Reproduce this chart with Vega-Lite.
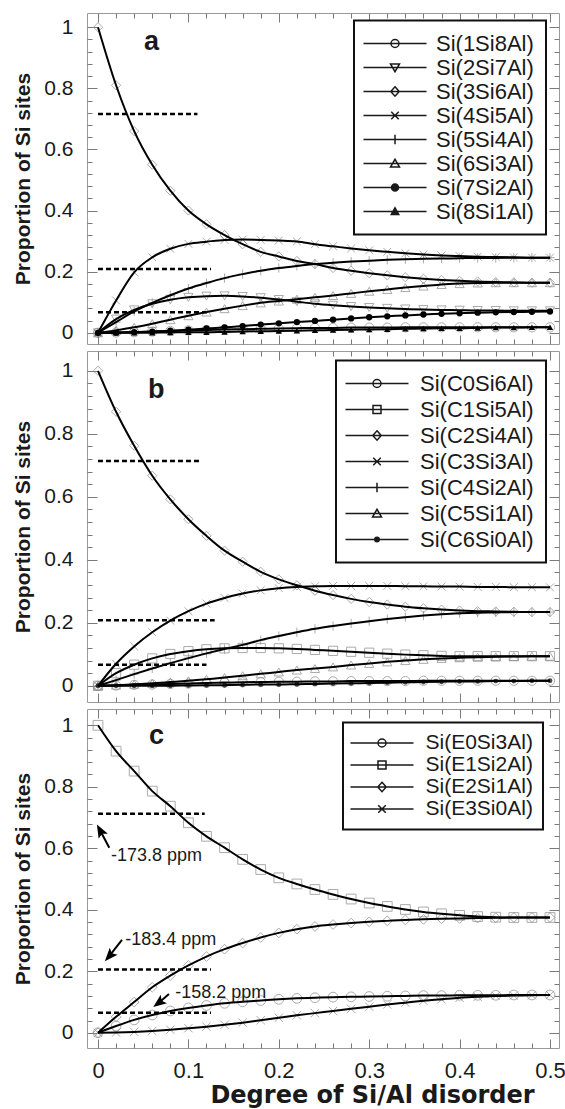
{
"$schema": "https://vega.github.io/schema/vega-lite/v6.json",
"background": "white",
"padding": {"left": 12, "top": 12, "right": 0, "bottom": 0},
"spacing": 5,
"config": {
  "view": {"stroke": "#9a9a9a", "strokeWidth": 1},
  "font": "Liberation Sans",
  "axis": {"domain": false, "grid": false, "ticks": true, "zindex": 1, "tickColor": "#7a7a7a", "tickWidth": 1, "tickOpacity": 1, "labelFont": "Liberation Sans", "labelFontSize": 21, "labelColor": "#1a1a1a", "titleFont": "Liberation Sans", "titleFontSize": 21, "titleFontWeight": "bold", "titleColor": "#1a1a1a", "labelOverlap": false, "labelFlush": false, "labelBound": false},
  "legend": {"labelFont": "Liberation Sans", "labelColor": "#1a1a1a", "strokeColor": "#111111", "strokeWidth": 2, "fillColor": "white", "symbolStrokeColor": "#1a1a1a", "symbolStrokeWidth": 1.5, "symbolSize": 100, "symbolOpacity": 1, "symbolFillColor": "transparent", "cornerRadius": 0, "labelLimit": 300}
},
"datasets": {
  "a": [
    {"x":0,"Si(1Si8Al)":0,"Si(2Si7Al)":0,"Si(3Si6Al)":1,"Si(4Si5Al)":0,"Si(5Si4Al)":0,"Si(6Si3Al)":0,"Si(7Si2Al)":0,"Si(8Si1Al)":0},
    {"x":0.02,"Si(1Si8Al)":0.001,"Si(2Si7Al)":0.045,"Si(3Si6Al)":0.81,"Si(4Si5Al)":0.106,"Si(5Si4Al)":0.035,"Si(6Si3Al)":0.008,"Si(7Si2Al)":0.0005,"Si(8Si1Al)":0},
    {"x":0.04,"Si(1Si8Al)":0.002,"Si(2Si7Al)":0.075,"Si(3Si6Al)":0.66,"Si(4Si5Al)":0.198,"Si(5Si4Al)":0.07,"Si(6Si3Al)":0.018,"Si(7Si2Al)":0.002,"Si(8Si1Al)":0.0002},
    {"x":0.06,"Si(1Si8Al)":0.004,"Si(2Si7Al)":0.095,"Si(3Si6Al)":0.55,"Si(4Si5Al)":0.247,"Si(5Si4Al)":0.098,"Si(6Si3Al)":0.03,"Si(7Si2Al)":0.004,"Si(8Si1Al)":0.0005},
    {"x":0.08,"Si(1Si8Al)":0.006,"Si(2Si7Al)":0.108,"Si(3Si6Al)":0.465,"Si(4Si5Al)":0.275,"Si(5Si4Al)":0.123,"Si(6Si3Al)":0.043,"Si(7Si2Al)":0.007,"Si(8Si1Al)":0.001},
    {"x":0.1,"Si(1Si8Al)":0.008,"Si(2Si7Al)":0.116,"Si(3Si6Al)":0.4,"Si(4Si5Al)":0.291,"Si(5Si4Al)":0.145,"Si(6Si3Al)":0.056,"Si(7Si2Al)":0.01,"Si(8Si1Al)":0.002},
    {"x":0.12,"Si(1Si8Al)":0.009,"Si(2Si7Al)":0.12,"Si(3Si6Al)":0.355,"Si(4Si5Al)":0.298,"Si(5Si4Al)":0.163,"Si(6Si3Al)":0.068,"Si(7Si2Al)":0.014,"Si(8Si1Al)":0.002},
    {"x":0.14,"Si(1Si8Al)":0.011,"Si(2Si7Al)":0.121,"Si(3Si6Al)":0.32,"Si(4Si5Al)":0.304,"Si(5Si4Al)":0.179,"Si(6Si3Al)":0.079,"Si(7Si2Al)":0.018,"Si(8Si1Al)":0.003},
    {"x":0.16,"Si(1Si8Al)":0.012,"Si(2Si7Al)":0.119,"Si(3Si6Al)":0.29,"Si(4Si5Al)":0.305,"Si(5Si4Al)":0.192,"Si(6Si3Al)":0.089,"Si(7Si2Al)":0.022,"Si(8Si1Al)":0.004},
    {"x":0.18,"Si(1Si8Al)":0.013,"Si(2Si7Al)":0.115,"Si(3Si6Al)":0.265,"Si(4Si5Al)":0.304,"Si(5Si4Al)":0.203,"Si(6Si3Al)":0.098,"Si(7Si2Al)":0.027,"Si(8Si1Al)":0.005},
    {"x":0.2,"Si(1Si8Al)":0.014,"Si(2Si7Al)":0.109,"Si(3Si6Al)":0.25,"Si(4Si5Al)":0.302,"Si(5Si4Al)":0.212,"Si(6Si3Al)":0.104,"Si(7Si2Al)":0.031,"Si(8Si1Al)":0.006},
    {"x":0.22,"Si(1Si8Al)":0.015,"Si(2Si7Al)":0.102,"Si(3Si6Al)":0.235,"Si(4Si5Al)":0.299,"Si(5Si4Al)":0.219,"Si(6Si3Al)":0.11,"Si(7Si2Al)":0.035,"Si(8Si1Al)":0.007},
    {"x":0.24,"Si(1Si8Al)":0.016,"Si(2Si7Al)":0.095,"Si(3Si6Al)":0.225,"Si(4Si5Al)":0.29,"Si(5Si4Al)":0.225,"Si(6Si3Al)":0.116,"Si(7Si2Al)":0.039,"Si(8Si1Al)":0.008},
    {"x":0.26,"Si(1Si8Al)":0.016,"Si(2Si7Al)":0.09,"Si(3Si6Al)":0.212,"Si(4Si5Al)":0.283,"Si(5Si4Al)":0.229,"Si(6Si3Al)":0.122,"Si(7Si2Al)":0.043,"Si(8Si1Al)":0.009},
    {"x":0.28,"Si(1Si8Al)":0.017,"Si(2Si7Al)":0.086,"Si(3Si6Al)":0.203,"Si(4Si5Al)":0.276,"Si(5Si4Al)":0.233,"Si(6Si3Al)":0.129,"Si(7Si2Al)":0.047,"Si(8Si1Al)":0.01},
    {"x":0.3,"Si(1Si8Al)":0.017,"Si(2Si7Al)":0.083,"Si(3Si6Al)":0.195,"Si(4Si5Al)":0.27,"Si(5Si4Al)":0.236,"Si(6Si3Al)":0.136,"Si(7Si2Al)":0.051,"Si(8Si1Al)":0.011},
    {"x":0.32,"Si(1Si8Al)":0.017,"Si(2Si7Al)":0.08,"Si(3Si6Al)":0.188,"Si(4Si5Al)":0.265,"Si(5Si4Al)":0.239,"Si(6Si3Al)":0.142,"Si(7Si2Al)":0.054,"Si(8Si1Al)":0.012},
    {"x":0.34,"Si(1Si8Al)":0.018,"Si(2Si7Al)":0.078,"Si(3Si6Al)":0.182,"Si(4Si5Al)":0.26,"Si(5Si4Al)":0.241,"Si(6Si3Al)":0.148,"Si(7Si2Al)":0.057,"Si(8Si1Al)":0.013},
    {"x":0.36,"Si(1Si8Al)":0.018,"Si(2Si7Al)":0.076,"Si(3Si6Al)":0.177,"Si(4Si5Al)":0.256,"Si(5Si4Al)":0.242,"Si(6Si3Al)":0.153,"Si(7Si2Al)":0.06,"Si(8Si1Al)":0.014},
    {"x":0.38,"Si(1Si8Al)":0.018,"Si(2Si7Al)":0.075,"Si(3Si6Al)":0.173,"Si(4Si5Al)":0.253,"Si(5Si4Al)":0.243,"Si(6Si3Al)":0.158,"Si(7Si2Al)":0.062,"Si(8Si1Al)":0.015},
    {"x":0.4,"Si(1Si8Al)":0.018,"Si(2Si7Al)":0.074,"Si(3Si6Al)":0.17,"Si(4Si5Al)":0.251,"Si(5Si4Al)":0.244,"Si(6Si3Al)":0.161,"Si(7Si2Al)":0.064,"Si(8Si1Al)":0.015},
    {"x":0.42,"Si(1Si8Al)":0.018,"Si(2Si7Al)":0.073,"Si(3Si6Al)":0.168,"Si(4Si5Al)":0.249,"Si(5Si4Al)":0.245,"Si(6Si3Al)":0.163,"Si(7Si2Al)":0.066,"Si(8Si1Al)":0.016},
    {"x":0.44,"Si(1Si8Al)":0.018,"Si(2Si7Al)":0.073,"Si(3Si6Al)":0.166,"Si(4Si5Al)":0.248,"Si(5Si4Al)":0.245,"Si(6Si3Al)":0.164,"Si(7Si2Al)":0.067,"Si(8Si1Al)":0.017},
    {"x":0.46,"Si(1Si8Al)":0.018,"Si(2Si7Al)":0.072,"Si(3Si6Al)":0.165,"Si(4Si5Al)":0.247,"Si(5Si4Al)":0.246,"Si(6Si3Al)":0.164,"Si(7Si2Al)":0.068,"Si(8Si1Al)":0.017},
    {"x":0.48,"Si(1Si8Al)":0.018,"Si(2Si7Al)":0.072,"Si(3Si6Al)":0.164,"Si(4Si5Al)":0.246,"Si(5Si4Al)":0.246,"Si(6Si3Al)":0.164,"Si(7Si2Al)":0.069,"Si(8Si1Al)":0.018},
    {"x":0.5,"Si(1Si8Al)":0.018,"Si(2Si7Al)":0.072,"Si(3Si6Al)":0.164,"Si(4Si5Al)":0.246,"Si(5Si4Al)":0.246,"Si(6Si3Al)":0.164,"Si(7Si2Al)":0.07,"Si(8Si1Al)":0.018}
  ],
  "b": [
    {"x":0,"Si(C0Si6Al)":0,"Si(C1Si5Al)":0,"Si(C2Si4Al)":1,"Si(C3Si3Al)":0,"Si(C4Si2Al)":0,"Si(C5Si1Al)":0,"Si(C6Si0Al)":0},
    {"x":0.02,"Si(C0Si6Al)":0.001,"Si(C1Si5Al)":0.04,"Si(C2Si4Al)":0.87,"Si(C3Si3Al)":0.07,"Si(C4Si2Al)":0.018,"Si(C5Si1Al)":0.002,"Si(C6Si0Al)":0},
    {"x":0.04,"Si(C0Si6Al)":0.003,"Si(C1Si5Al)":0.067,"Si(C2Si4Al)":0.762,"Si(C3Si3Al)":0.125,"Si(C4Si2Al)":0.037,"Si(C5Si1Al)":0.005,"Si(C6Si0Al)":0},
    {"x":0.06,"Si(C0Si6Al)":0.004,"Si(C1Si5Al)":0.087,"Si(C2Si4Al)":0.667,"Si(C3Si3Al)":0.17,"Si(C4Si2Al)":0.055,"Si(C5Si1Al)":0.008,"Si(C6Si0Al)":0.0002},
    {"x":0.08,"Si(C0Si6Al)":0.006,"Si(C1Si5Al)":0.101,"Si(C2Si4Al)":0.592,"Si(C3Si3Al)":0.207,"Si(C4Si2Al)":0.072,"Si(C5Si1Al)":0.012,"Si(C6Si0Al)":0.0004},
    {"x":0.1,"Si(C0Si6Al)":0.007,"Si(C1Si5Al)":0.11,"Si(C2Si4Al)":0.529,"Si(C3Si3Al)":0.237,"Si(C4Si2Al)":0.088,"Si(C5Si1Al)":0.016,"Si(C6Si0Al)":0.001},
    {"x":0.12,"Si(C0Si6Al)":0.009,"Si(C1Si5Al)":0.116,"Si(C2Si4Al)":0.476,"Si(C3Si3Al)":0.261,"Si(C4Si2Al)":0.103,"Si(C5Si1Al)":0.021,"Si(C6Si0Al)":0.0015},
    {"x":0.14,"Si(C0Si6Al)":0.01,"Si(C1Si5Al)":0.119,"Si(C2Si4Al)":0.429,"Si(C3Si3Al)":0.279,"Si(C4Si2Al)":0.117,"Si(C5Si1Al)":0.026,"Si(C6Si0Al)":0.002},
    {"x":0.16,"Si(C0Si6Al)":0.011,"Si(C1Si5Al)":0.12,"Si(C2Si4Al)":0.394,"Si(C3Si3Al)":0.293,"Si(C4Si2Al)":0.13,"Si(C5Si1Al)":0.032,"Si(C6Si0Al)":0.003},
    {"x":0.18,"Si(C0Si6Al)":0.012,"Si(C1Si5Al)":0.12,"Si(C2Si4Al)":0.362,"Si(C3Si3Al)":0.303,"Si(C4Si2Al)":0.145,"Si(C5Si1Al)":0.038,"Si(C6Si0Al)":0.004},
    {"x":0.2,"Si(C0Si6Al)":0.013,"Si(C1Si5Al)":0.119,"Si(C2Si4Al)":0.338,"Si(C3Si3Al)":0.31,"Si(C4Si2Al)":0.158,"Si(C5Si1Al)":0.044,"Si(C6Si0Al)":0.004},
    {"x":0.22,"Si(C0Si6Al)":0.013,"Si(C1Si5Al)":0.117,"Si(C2Si4Al)":0.319,"Si(C3Si3Al)":0.314,"Si(C4Si2Al)":0.17,"Si(C5Si1Al)":0.05,"Si(C6Si0Al)":0.005},
    {"x":0.24,"Si(C0Si6Al)":0.014,"Si(C1Si5Al)":0.114,"Si(C2Si4Al)":0.302,"Si(C3Si3Al)":0.316,"Si(C4Si2Al)":0.181,"Si(C5Si1Al)":0.055,"Si(C6Si0Al)":0.006},
    {"x":0.26,"Si(C0Si6Al)":0.014,"Si(C1Si5Al)":0.111,"Si(C2Si4Al)":0.288,"Si(C3Si3Al)":0.317,"Si(C4Si2Al)":0.19,"Si(C5Si1Al)":0.06,"Si(C6Si0Al)":0.007},
    {"x":0.28,"Si(C0Si6Al)":0.015,"Si(C1Si5Al)":0.108,"Si(C2Si4Al)":0.276,"Si(C3Si3Al)":0.317,"Si(C4Si2Al)":0.198,"Si(C5Si1Al)":0.066,"Si(C6Si0Al)":0.008},
    {"x":0.3,"Si(C0Si6Al)":0.015,"Si(C1Si5Al)":0.105,"Si(C2Si4Al)":0.266,"Si(C3Si3Al)":0.317,"Si(C4Si2Al)":0.205,"Si(C5Si1Al)":0.071,"Si(C6Si0Al)":0.009},
    {"x":0.32,"Si(C0Si6Al)":0.015,"Si(C1Si5Al)":0.102,"Si(C2Si4Al)":0.258,"Si(C3Si3Al)":0.317,"Si(C4Si2Al)":0.212,"Si(C5Si1Al)":0.076,"Si(C6Si0Al)":0.01},
    {"x":0.34,"Si(C0Si6Al)":0.015,"Si(C1Si5Al)":0.099,"Si(C2Si4Al)":0.251,"Si(C3Si3Al)":0.316,"Si(C4Si2Al)":0.218,"Si(C5Si1Al)":0.08,"Si(C6Si0Al)":0.011},
    {"x":0.36,"Si(C0Si6Al)":0.016,"Si(C1Si5Al)":0.097,"Si(C2Si4Al)":0.246,"Si(C3Si3Al)":0.316,"Si(C4Si2Al)":0.223,"Si(C5Si1Al)":0.084,"Si(C6Si0Al)":0.012},
    {"x":0.38,"Si(C0Si6Al)":0.016,"Si(C1Si5Al)":0.095,"Si(C2Si4Al)":0.242,"Si(C3Si3Al)":0.315,"Si(C4Si2Al)":0.227,"Si(C5Si1Al)":0.087,"Si(C6Si0Al)":0.013},
    {"x":0.4,"Si(C0Si6Al)":0.016,"Si(C1Si5Al)":0.094,"Si(C2Si4Al)":0.239,"Si(C3Si3Al)":0.315,"Si(C4Si2Al)":0.23,"Si(C5Si1Al)":0.089,"Si(C6Si0Al)":0.014},
    {"x":0.42,"Si(C0Si6Al)":0.016,"Si(C1Si5Al)":0.094,"Si(C2Si4Al)":0.237,"Si(C3Si3Al)":0.314,"Si(C4Si2Al)":0.232,"Si(C5Si1Al)":0.091,"Si(C6Si0Al)":0.014},
    {"x":0.44,"Si(C0Si6Al)":0.016,"Si(C1Si5Al)":0.094,"Si(C2Si4Al)":0.236,"Si(C3Si3Al)":0.314,"Si(C4Si2Al)":0.233,"Si(C5Si1Al)":0.092,"Si(C6Si0Al)":0.015},
    {"x":0.46,"Si(C0Si6Al)":0.016,"Si(C1Si5Al)":0.094,"Si(C2Si4Al)":0.235,"Si(C3Si3Al)":0.313,"Si(C4Si2Al)":0.234,"Si(C5Si1Al)":0.093,"Si(C6Si0Al)":0.015},
    {"x":0.48,"Si(C0Si6Al)":0.016,"Si(C1Si5Al)":0.094,"Si(C2Si4Al)":0.234,"Si(C3Si3Al)":0.313,"Si(C4Si2Al)":0.234,"Si(C5Si1Al)":0.094,"Si(C6Si0Al)":0.016},
    {"x":0.5,"Si(C0Si6Al)":0.016,"Si(C1Si5Al)":0.094,"Si(C2Si4Al)":0.234,"Si(C3Si3Al)":0.3125,"Si(C4Si2Al)":0.234,"Si(C5Si1Al)":0.094,"Si(C6Si0Al)":0.016}
  ],
  "c": [
    {"x":0,"Si(E0Si3Al)":0,"Si(E1Si2Al)":1,"Si(E2Si1Al)":0,"Si(E3Si0Al)":0},
    {"x":0.02,"Si(E0Si3Al)":0.022,"Si(E1Si2Al)":0.916,"Si(E2Si1Al)":0.052,"Si(E3Si0Al)":0.001},
    {"x":0.04,"Si(E0Si3Al)":0.042,"Si(E1Si2Al)":0.851,"Si(E2Si1Al)":0.1,"Si(E3Si0Al)":0.003},
    {"x":0.06,"Si(E0Si3Al)":0.058,"Si(E1Si2Al)":0.786,"Si(E2Si1Al)":0.148,"Si(E3Si0Al)":0.006},
    {"x":0.08,"Si(E0Si3Al)":0.071,"Si(E1Si2Al)":0.737,"Si(E2Si1Al)":0.186,"Si(E3Si0Al)":0.01},
    {"x":0.1,"Si(E0Si3Al)":0.081,"Si(E1Si2Al)":0.683,"Si(E2Si1Al)":0.219,"Si(E3Si0Al)":0.015},
    {"x":0.12,"Si(E0Si3Al)":0.089,"Si(E1Si2Al)":0.639,"Si(E2Si1Al)":0.248,"Si(E3Si0Al)":0.02},
    {"x":0.14,"Si(E0Si3Al)":0.096,"Si(E1Si2Al)":0.602,"Si(E2Si1Al)":0.272,"Si(E3Si0Al)":0.026},
    {"x":0.16,"Si(E0Si3Al)":0.101,"Si(E1Si2Al)":0.564,"Si(E2Si1Al)":0.292,"Si(E3Si0Al)":0.033},
    {"x":0.18,"Si(E0Si3Al)":0.105,"Si(E1Si2Al)":0.531,"Si(E2Si1Al)":0.31,"Si(E3Si0Al)":0.041},
    {"x":0.2,"Si(E0Si3Al)":0.109,"Si(E1Si2Al)":0.504,"Si(E2Si1Al)":0.325,"Si(E3Si0Al)":0.049},
    {"x":0.22,"Si(E0Si3Al)":0.112,"Si(E1Si2Al)":0.484,"Si(E2Si1Al)":0.337,"Si(E3Si0Al)":0.057},
    {"x":0.24,"Si(E0Si3Al)":0.114,"Si(E1Si2Al)":0.466,"Si(E2Si1Al)":0.346,"Si(E3Si0Al)":0.064},
    {"x":0.26,"Si(E0Si3Al)":0.116,"Si(E1Si2Al)":0.45,"Si(E2Si1Al)":0.352,"Si(E3Si0Al)":0.071},
    {"x":0.28,"Si(E0Si3Al)":0.117,"Si(E1Si2Al)":0.435,"Si(E2Si1Al)":0.357,"Si(E3Si0Al)":0.078},
    {"x":0.3,"Si(E0Si3Al)":0.118,"Si(E1Si2Al)":0.422,"Si(E2Si1Al)":0.361,"Si(E3Si0Al)":0.085},
    {"x":0.32,"Si(E0Si3Al)":0.119,"Si(E1Si2Al)":0.411,"Si(E2Si1Al)":0.364,"Si(E3Si0Al)":0.092},
    {"x":0.34,"Si(E0Si3Al)":0.12,"Si(E1Si2Al)":0.401,"Si(E2Si1Al)":0.367,"Si(E3Si0Al)":0.098},
    {"x":0.36,"Si(E0Si3Al)":0.121,"Si(E1Si2Al)":0.393,"Si(E2Si1Al)":0.369,"Si(E3Si0Al)":0.104},
    {"x":0.38,"Si(E0Si3Al)":0.121,"Si(E1Si2Al)":0.387,"Si(E2Si1Al)":0.371,"Si(E3Si0Al)":0.109},
    {"x":0.4,"Si(E0Si3Al)":0.122,"Si(E1Si2Al)":0.382,"Si(E2Si1Al)":0.372,"Si(E3Si0Al)":0.114},
    {"x":0.42,"Si(E0Si3Al)":0.122,"Si(E1Si2Al)":0.378,"Si(E2Si1Al)":0.373,"Si(E3Si0Al)":0.117},
    {"x":0.44,"Si(E0Si3Al)":0.122,"Si(E1Si2Al)":0.376,"Si(E2Si1Al)":0.374,"Si(E3Si0Al)":0.12},
    {"x":0.46,"Si(E0Si3Al)":0.123,"Si(E1Si2Al)":0.375,"Si(E2Si1Al)":0.375,"Si(E3Si0Al)":0.121},
    {"x":0.48,"Si(E0Si3Al)":0.123,"Si(E1Si2Al)":0.375,"Si(E2Si1Al)":0.375,"Si(E3Si0Al)":0.122},
    {"x":0.5,"Si(E0Si3Al)":0.123,"Si(E1Si2Al)":0.375,"Si(E2Si1Al)":0.375,"Si(E3Si0Al)":0.123}
  ],
  "dash": [
    {"p":"a","x":0,"xe":0.11,"v":0.716},
    {"p":"a","x":0,"xe":0.125,"v":0.209},
    {"p":"a","x":0,"xe":0.123,"v":0.067},
    {"p":"b","x":0,"xe":0.114,"v":0.714},
    {"p":"b","x":0,"xe":0.129,"v":0.208},
    {"p":"b","x":0,"xe":0.12,"v":0.067},
    {"p":"c","x":0,"xe":0.118,"v":0.712},
    {"p":"c","x":0,"xe":0.125,"v":0.206},
    {"p":"c","x":0,"xe":0.125,"v":0.065}
  ],
  "lab": [
    {"p":"a","x":0.051,"v":0.927,"t":"a"},
    {"p":"b","x":0.0553,"v":0.915,"t":"b"},
    {"p":"c","x":0.0564,"v":0.9376,"t":"c"}
  ],
  "ann": [
    {"x":0.0144,"v":0.576,"t":"-173.8 ppm"},
    {"x":0.0302,"v":0.303,"t":"-183.4 ppm"},
    {"x":0.0855,"v":0.13,"t":"-158.2 ppm"}
  ],
  "arrows": [
    {"id":1,"x":0.0125,"v":0.602,"hx":0.0025,"hv":0.657},
    {"id":2,"x":0.0265,"v":0.302,"hx":0.0127,"hv":0.25},
    {"id":3,"x":0.0785,"v":0.126,"hx":0.0673,"hv":0.0976}
  ]
},
"vconcat": [
  {
    "width": 472, "height": 331,
    "layer": [
      {
        "data": {"name": "a"},
        "transform": [{"fold": ["Si(1Si8Al)","Si(2Si7Al)","Si(3Si6Al)","Si(4Si5Al)","Si(5Si4Al)","Si(6Si3Al)","Si(7Si2Al)","Si(8Si1Al)"], "as": ["series","v"]},
                      {"filter": {"field": "series", "oneOf": ["Si(1Si8Al)","Si(2Si7Al)","Si(3Si6Al)","Si(4Si5Al)","Si(5Si4Al)","Si(6Si3Al)"]}}],
        "mark": {"type": "point", "filled": false, "color": "#888888", "strokeWidth": 1, "size": 85},
        "encoding": {
          "x": {"field": "x", "type": "quantitative", "scale": {"domain": [-0.01217, 0.50996], "nice": false, "zero": false},
                "axis": {"values": [0,0.02,0.04,0.06,0.08,0.1,0.12,0.14,0.16,0.18,0.2,0.22,0.24,0.26,0.28,0.3,0.32,0.34,0.36,0.38,0.4,0.42,0.44,0.46,0.48,0.5], "labels": false, "title": null,
                         "tickSize": -9, "tickDash": {"condition": {"test": "round(datum.value*50)%5===0", "value": [9,0]}, "value": [5,30]}}},
          "y": {"field": "v", "type": "quantitative", "scale": {"domain": [-0.0366, 1.0465], "nice": false, "zero": false},
                "axis": {"values": [0,0.04,0.08,0.12,0.16,0.2,0.24,0.28,0.32,0.36,0.4,0.44,0.48,0.52,0.56,0.6,0.64,0.68,0.72,0.76,0.8,0.84,0.88,0.92,0.96,1],
                         "title": "Proportion of Si sites", "titlePadding": 10, "labelPadding": 24,
                         "labelExpr": "round(datum.value*25)%5===0 ? format(datum.value,'~g') : ''",
                         "tickSize": -10, "tickDash": {"condition": {"test": "round(datum.value*25)%5===0", "value": [10,0]}, "value": [5,30]}}},
          "shape": {"field": "series", "type": "nominal", "legend": null,
                    "scale": {"domain": ["Si(1Si8Al)","Si(2Si7Al)","Si(3Si6Al)","Si(4Si5Al)","Si(5Si4Al)","Si(6Si3Al)"],
                              "range": ["circle","triangle-down","diamond","M-0.85,-0.85L0.85,0.85M-0.85,0.85L0.85,-0.85","M-1,0H1M0,-1V1","triangle-up"]}}
        }
      },
      {
        "data": {"name": "a"},
        "transform": [{"fold": ["Si(1Si8Al)","Si(2Si7Al)","Si(3Si6Al)","Si(4Si5Al)","Si(5Si4Al)","Si(6Si3Al)","Si(7Si2Al)","Si(8Si1Al)"], "as": ["series","v"]}],
        "mark": {"type": "line", "color": "black", "strokeWidth": 2, "interpolate": "monotone"},
        "encoding": {
          "x": {"field": "x", "type": "quantitative",
                "axis": {"orient": "top", "values": [0,0.02,0.04,0.06,0.08,0.1,0.12,0.14,0.16,0.18,0.2,0.22,0.24,0.26,0.28,0.3,0.32,0.34,0.36,0.38,0.4,0.42,0.44,0.46,0.48,0.5], "labels": false, "title": null,
                         "tickSize": -9, "tickDash": {"condition": {"test": "round(datum.value*50)%5===0", "value": [9,0]}, "value": [5,30]}}},
          "y": {"field": "v", "type": "quantitative",
                "axis": {"orient": "right", "values": [0,0.04,0.08,0.12,0.16,0.2,0.24,0.28,0.32,0.36,0.4,0.44,0.48,0.52,0.56,0.6,0.64,0.68,0.72,0.76,0.8,0.84,0.88,0.92,0.96,1], "labels": false, "title": null,
                         "tickSize": -10, "tickDash": {"condition": {"test": "round(datum.value*25)%5===0", "value": [10,0]}, "value": [5,30]}}},
          "detail": {"field": "series", "type": "nominal"}
        }
      },
      {
        "data": {"name": "a"},
        "transform": [{"fold": ["Si(7Si2Al)","Si(8Si1Al)"], "as": ["series","v"]}],
        "mark": {"type": "point", "filled": true, "color": "black", "size": 40, "opacity": 1},
        "encoding": {
          "x": {"field": "x", "type": "quantitative", "axis": null},
          "y": {"field": "v", "type": "quantitative", "axis": null},
          "shape": {"field": "series", "type": "nominal", "legend": null,
                    "scale": {"domain": ["Si(7Si2Al)","Si(8Si1Al)"], "range": ["circle","triangle-up"]}}
        }
      },
      {
        "data": {"name": "dash"},
        "transform": [{"filter": "datum.p === 'a'"}],
        "mark": {"type": "rule", "color": "black", "strokeWidth": 2.5, "strokeDash": [5,3]},
        "encoding": {
          "x": {"field": "x", "type": "quantitative", "axis": null},
          "x2": {"field": "xe"},
          "y": {"field": "v", "type": "quantitative", "axis": null}
        }
      },
      {
        "data": {"name": "a"},
        "transform": [{"fold": ["Si(1Si8Al)","Si(2Si7Al)","Si(3Si6Al)","Si(4Si5Al)","Si(5Si4Al)","Si(6Si3Al)","Si(7Si2Al)","Si(8Si1Al)"], "as": ["series","v"]}, {"filter": "datum.x === 0"}],
        "mark": {"type": "point", "filled": false, "color": "black", "opacity": 0},
        "encoding": {
          "x": {"field": "x", "type": "quantitative", "axis": null},
          "y": {"field": "v", "type": "quantitative", "axis": null},
          "shape": {"field": "series", "type": "nominal",
                    "scale": {"domain": ["Si(1Si8Al)","Si(2Si7Al)","Si(3Si6Al)","Si(4Si5Al)","Si(5Si4Al)","Si(6Si3Al)","Si(7Si2Al)","Si(8Si1Al)"],
                              "range": ["M-6.3,0H6.3M0.8,0A0.8,0.8,0,1,1,-0.8,0A0.8,0.8,0,1,1,0.8,0Z",
                                        "M-6.3,0H6.3M-0.9,-0.7L0.9,-0.7L0,0.85Z",
                                        "M-6.3,0H6.3M0,-0.95L0.85,0L0,0.95L-0.85,0Z",
                                        "M-6.3,0H6.3M-0.75,-0.75L0.75,0.75M-0.75,0.75L0.75,-0.75",
                                        "M-6.3,0H6.3M0,-0.95V0.95",
                                        "M-6.3,0H6.3M-0.9,0.7L0.9,0.7L0,-0.85Z",
                                        "M-6.3,0H6.3M0.7,0A0.7,0.7,0,1,1,-0.7,0A0.7,0.7,0,1,1,0.7,0ZM0.4,0A0.4,0.4,0,1,1,-0.4,0A0.4,0.4,0,1,1,0.4,0ZM0.12,0A0.12,0.12,0,1,1,-0.12,0A0.12,0.12,0,1,1,0.12,0Z",
                                        "M-6.3,0H6.3M-0.75,0.6L0.75,0.6L0,-0.75ZM-0.45,0.42L0.45,0.42L0,-0.39ZM-0.19,0.26L0.19,0.26L0,-0.08Z"]},
                    "legend": {"title": null, "orient": "none", "legendX": 267, "legendY": 7.5, "padding": 12, "rowPadding": 2, "labelFontSize": 22,
                               "symbolOffset": 18, "labelOffset": 30}}
        }
      },
      {
        "data": {"name": "lab"},
        "transform": [{"filter": "datum.p === 'a'"}],
        "mark": {"type": "text", "font": "Liberation Sans", "fontWeight": "bold", "fontSize": 27, "align": "left", "baseline": "alphabetic", "color": "#1a1a1a"},
        "encoding": {
          "x": {"field": "x", "type": "quantitative", "axis": null},
          "y": {"field": "v", "type": "quantitative", "axis": null},
          "text": {"field": "t"}
        }
      }
    ],
    "resolve": {"scale": {"shape": "independent"}, "axis": {"x": "independent", "y": "independent"}}
  },
  {
    "width": 472, "height": 351,
    "layer": [
      {
        "data": {"name": "b"},
        "transform": [{"fold": ["Si(C0Si6Al)","Si(C1Si5Al)","Si(C2Si4Al)","Si(C3Si3Al)","Si(C4Si2Al)","Si(C5Si1Al)","Si(C6Si0Al)"], "as": ["series","v"]},
                      {"filter": {"field": "series", "oneOf": ["Si(C0Si6Al)","Si(C1Si5Al)","Si(C2Si4Al)","Si(C3Si3Al)","Si(C4Si2Al)","Si(C5Si1Al)"]}}],
        "mark": {"type": "point", "filled": false, "color": "#888888", "strokeWidth": 1, "size": 85},
        "encoding": {
          "x": {"field": "x", "type": "quantitative", "scale": {"domain": [-0.01217, 0.50996], "nice": false, "zero": false},
                "axis": {"values": [0,0.02,0.04,0.06,0.08,0.1,0.12,0.14,0.16,0.18,0.2,0.22,0.24,0.26,0.28,0.3,0.32,0.34,0.36,0.38,0.4,0.42,0.44,0.46,0.48,0.5], "labels": false, "title": null,
                         "tickSize": -9, "tickDash": {"condition": {"test": "round(datum.value*50)%5===0", "value": [9,0]}, "value": [5,30]}}},
          "y": {"field": "v", "type": "quantitative", "scale": {"domain": [-0.0514, 1.0629], "nice": false, "zero": false},
                "axis": {"values": [0,0.04,0.08,0.12,0.16,0.2,0.24,0.28,0.32,0.36,0.4,0.44,0.48,0.52,0.56,0.6,0.64,0.68,0.72,0.76,0.8,0.84,0.88,0.92,0.96,1],
                         "title": "Proportion of Si sites", "titlePadding": 10, "labelPadding": 24,
                         "labelExpr": "round(datum.value*25)%5===0 ? format(datum.value,'~g') : ''",
                         "tickSize": -10, "tickDash": {"condition": {"test": "round(datum.value*25)%5===0", "value": [10,0]}, "value": [5,30]}}},
          "shape": {"field": "series", "type": "nominal", "legend": null,
                    "scale": {"domain": ["Si(C0Si6Al)","Si(C1Si5Al)","Si(C2Si4Al)","Si(C3Si3Al)","Si(C4Si2Al)","Si(C5Si1Al)"],
                              "range": ["circle","square","diamond","M-0.85,-0.85L0.85,0.85M-0.85,0.85L0.85,-0.85","M-1,0H1M0,-1V1","triangle-up"]}}
        }
      },
      {
        "data": {"name": "b"},
        "transform": [{"fold": ["Si(C0Si6Al)","Si(C1Si5Al)","Si(C2Si4Al)","Si(C3Si3Al)","Si(C4Si2Al)","Si(C5Si1Al)","Si(C6Si0Al)"], "as": ["series","v"]}],
        "mark": {"type": "line", "color": "black", "strokeWidth": 2, "interpolate": "monotone"},
        "encoding": {
          "x": {"field": "x", "type": "quantitative",
                "axis": {"orient": "top", "values": [0,0.02,0.04,0.06,0.08,0.1,0.12,0.14,0.16,0.18,0.2,0.22,0.24,0.26,0.28,0.3,0.32,0.34,0.36,0.38,0.4,0.42,0.44,0.46,0.48,0.5], "labels": false, "title": null,
                         "tickSize": -9, "tickDash": {"condition": {"test": "round(datum.value*50)%5===0", "value": [9,0]}, "value": [5,30]}}},
          "y": {"field": "v", "type": "quantitative",
                "axis": {"orient": "right", "values": [0,0.04,0.08,0.12,0.16,0.2,0.24,0.28,0.32,0.36,0.4,0.44,0.48,0.52,0.56,0.6,0.64,0.68,0.72,0.76,0.8,0.84,0.88,0.92,0.96,1], "labels": false, "title": null,
                         "tickSize": -10, "tickDash": {"condition": {"test": "round(datum.value*25)%5===0", "value": [10,0]}, "value": [5,30]}}},
          "detail": {"field": "series", "type": "nominal"}
        }
      },
      {
        "data": {"name": "b"},
        "transform": [{"fold": ["Si(C6Si0Al)"], "as": ["series","v"]}],
        "mark": {"type": "point", "filled": true, "color": "black", "size": 24, "shape": "circle"},
        "encoding": {
          "x": {"field": "x", "type": "quantitative", "axis": null},
          "y": {"field": "v", "type": "quantitative", "axis": null}
        }
      },
      {
        "data": {"name": "dash"},
        "transform": [{"filter": "datum.p === 'b'"}],
        "mark": {"type": "rule", "color": "black", "strokeWidth": 2.5, "strokeDash": [5,3]},
        "encoding": {
          "x": {"field": "x", "type": "quantitative", "axis": null},
          "x2": {"field": "xe"},
          "y": {"field": "v", "type": "quantitative", "axis": null}
        }
      },
      {
        "data": {"name": "b"},
        "transform": [{"fold": ["Si(C0Si6Al)","Si(C1Si5Al)","Si(C2Si4Al)","Si(C3Si3Al)","Si(C4Si2Al)","Si(C5Si1Al)","Si(C6Si0Al)"], "as": ["series","v"]}, {"filter": "datum.x === 0"}],
        "mark": {"type": "point", "filled": false, "color": "black", "opacity": 0},
        "encoding": {
          "x": {"field": "x", "type": "quantitative", "axis": null},
          "y": {"field": "v", "type": "quantitative", "axis": null},
          "shape": {"field": "series", "type": "nominal",
                    "scale": {"domain": ["Si(C0Si6Al)","Si(C1Si5Al)","Si(C2Si4Al)","Si(C3Si3Al)","Si(C4Si2Al)","Si(C5Si1Al)","Si(C6Si0Al)"],
                              "range": ["M-6.3,0H6.3M0.8,0A0.8,0.8,0,1,1,-0.8,0A0.8,0.8,0,1,1,0.8,0Z",
                                        "M-6.3,0H6.3M-0.8,-0.8H0.8V0.8H-0.8Z",
                                        "M-6.3,0H6.3M0,-0.95L0.85,0L0,0.95L-0.85,0Z",
                                        "M-6.3,0H6.3M-0.75,-0.75L0.75,0.75M-0.75,0.75L0.75,-0.75",
                                        "M-6.3,0H6.3M0,-0.95V0.95",
                                        "M-6.3,0H6.3M-0.9,0.7L0.9,0.7L0,-0.85Z",
                                        "M-6.3,0H6.3M0.45,0A0.45,0.45,0,1,1,-0.45,0A0.45,0.45,0,1,1,0.45,0ZM0.17,0A0.17,0.17,0,1,1,-0.17,0A0.17,0.17,0,1,1,0.17,0Z"]},
                    "legend": {"title": null, "orient": "none", "legendX": 249, "legendY": 9.5, "padding": 12, "rowPadding": 4, "labelFontSize": 22,
                               "symbolOffset": 18, "labelOffset": 32}}
        }
      },
      {
        "data": {"name": "lab"},
        "transform": [{"filter": "datum.p === 'b'"}],
        "mark": {"type": "text", "font": "Liberation Sans", "fontWeight": "bold", "fontSize": 27, "align": "left", "baseline": "alphabetic", "color": "#1a1a1a"},
        "encoding": {
          "x": {"field": "x", "type": "quantitative", "axis": null},
          "y": {"field": "v", "type": "quantitative", "axis": null},
          "text": {"field": "t"}
        }
      }
    ],
    "resolve": {"scale": {"shape": "independent"}, "axis": {"x": "independent", "y": "independent"}}
  },
  {
    "width": 472, "height": 339,
    "layer": [
      {
        "data": {"name": "c"},
        "transform": [{"fold": ["Si(E0Si3Al)","Si(E1Si2Al)","Si(E2Si1Al)","Si(E3Si0Al)"], "as": ["series","v"]}],
        "mark": {"type": "point", "filled": false, "color": "#888888", "strokeWidth": 1, "size": 95},
        "encoding": {
          "x": {"field": "x", "type": "quantitative", "scale": {"domain": [-0.01217, 0.50996], "nice": false, "zero": false},
                "axis": {"values": [0,0.02,0.04,0.06,0.08,0.1,0.12,0.14,0.16,0.18,0.2,0.22,0.24,0.26,0.28,0.3,0.32,0.34,0.36,0.38,0.4,0.42,0.44,0.46,0.48,0.5],
                         "title": "Degree of Si/Al disorder", "titleFont": "DejaVu Sans", "titleFontSize": 24, "titleX": 285, "titleY": 54, "titleBaseline": "alphabetic",
                         "labelPadding": 21, "labelFontSize": 22,
                         "labelExpr": "round(datum.value*50)%5===0 ? format(datum.value,'~g') : ''",
                         "tickSize": -9, "tickDash": {"condition": {"test": "round(datum.value*50)%5===0", "value": [9,0]}, "value": [5,30]}}},
          "y": {"field": "v", "type": "quantitative", "scale": {"domain": [-0.0494, 1.053], "nice": false, "zero": false},
                "axis": {"values": [0,0.04,0.08,0.12,0.16,0.2,0.24,0.28,0.32,0.36,0.4,0.44,0.48,0.52,0.56,0.6,0.64,0.68,0.72,0.76,0.8,0.84,0.88,0.92,0.96,1],
                         "title": "Proportion of Si sites", "titlePadding": 10, "labelPadding": 24,
                         "labelExpr": "round(datum.value*25)%5===0 ? format(datum.value,'~g') : ''",
                         "tickSize": -10, "tickDash": {"condition": {"test": "round(datum.value*25)%5===0", "value": [10,0]}, "value": [5,30]}}},
          "shape": {"field": "series", "type": "nominal", "legend": null,
                    "scale": {"domain": ["Si(E0Si3Al)","Si(E1Si2Al)","Si(E2Si1Al)","Si(E3Si0Al)"],
                              "range": ["circle","square","diamond","M-0.85,-0.85L0.85,0.85M-0.85,0.85L0.85,-0.85"]}}
        }
      },
      {
        "data": {"name": "c"},
        "transform": [{"fold": ["Si(E0Si3Al)","Si(E1Si2Al)","Si(E2Si1Al)","Si(E3Si0Al)"], "as": ["series","v"]}],
        "mark": {"type": "line", "color": "black", "strokeWidth": 2, "interpolate": "monotone"},
        "encoding": {
          "x": {"field": "x", "type": "quantitative",
                "axis": {"orient": "top", "values": [0,0.02,0.04,0.06,0.08,0.1,0.12,0.14,0.16,0.18,0.2,0.22,0.24,0.26,0.28,0.3,0.32,0.34,0.36,0.38,0.4,0.42,0.44,0.46,0.48,0.5], "labels": false, "title": null,
                         "tickSize": -9, "tickDash": {"condition": {"test": "round(datum.value*50)%5===0", "value": [9,0]}, "value": [5,30]}}},
          "y": {"field": "v", "type": "quantitative",
                "axis": {"orient": "right", "values": [0,0.04,0.08,0.12,0.16,0.2,0.24,0.28,0.32,0.36,0.4,0.44,0.48,0.52,0.56,0.6,0.64,0.68,0.72,0.76,0.8,0.84,0.88,0.92,0.96,1], "labels": false, "title": null,
                         "tickSize": -10, "tickDash": {"condition": {"test": "round(datum.value*25)%5===0", "value": [10,0]}, "value": [5,30]}}},
          "detail": {"field": "series", "type": "nominal"}
        }
      },
      {
        "data": {"name": "dash"},
        "transform": [{"filter": "datum.p === 'c'"}],
        "mark": {"type": "rule", "color": "black", "strokeWidth": 2.5, "strokeDash": [5,3]},
        "encoding": {
          "x": {"field": "x", "type": "quantitative", "axis": null},
          "x2": {"field": "xe"},
          "y": {"field": "v", "type": "quantitative", "axis": null}
        }
      },
      {
        "data": {"name": "ann"},
        "mark": {"type": "text", "font": "Liberation Sans", "fontSize": 18, "align": "left", "baseline": "middle", "color": "#1a1a1a"},
        "encoding": {
          "x": {"field": "x", "type": "quantitative", "axis": null},
          "y": {"field": "v", "type": "quantitative", "axis": null},
          "text": {"field": "t"}
        }
      },
      {
        "data": {"name": "arrows"},
        "mark": {"type": "rule", "color": "black", "strokeWidth": 2},
        "encoding": {
          "x": {"field": "x", "type": "quantitative", "axis": null},
          "y": {"field": "v", "type": "quantitative", "axis": null},
          "x2": {"field": "hx"},
          "y2": {"field": "hv"}
        }
      },
      {
        "data": {"name": "arrows"},
        "transform": [{"filter": "datum.id === 1"}],
        "mark": {"type": "point", "filled": true, "color": "black", "opacity": 1, "size": 196, "angle": 331.5, "shape": "M0,-1L0.75,0.9L0,0.5L-0.75,0.9Z"},
        "encoding": {
          "x": {"field": "hx", "type": "quantitative", "axis": null},
          "y": {"field": "hv", "type": "quantitative", "axis": null}
        }
      },
      {
        "data": {"name": "arrows"},
        "transform": [{"filter": "datum.id === 2"}],
        "mark": {"type": "point", "filled": true, "color": "black", "opacity": 1, "size": 196, "angle": 221.8, "shape": "M0,-1L0.75,0.9L0,0.5L-0.75,0.9Z"},
        "encoding": {
          "x": {"field": "hx", "type": "quantitative", "axis": null},
          "y": {"field": "hv", "type": "quantitative", "axis": null}
        }
      },
      {
        "data": {"name": "arrows"},
        "transform": [{"filter": "datum.id === 3"}],
        "mark": {"type": "point", "filled": true, "color": "black", "opacity": 1, "size": 196, "angle": 232.8, "shape": "M0,-1L0.75,0.9L0,0.5L-0.75,0.9Z"},
        "encoding": {
          "x": {"field": "hx", "type": "quantitative", "axis": null},
          "y": {"field": "hv", "type": "quantitative", "axis": null}
        }
      },
      {
        "data": {"name": "c"},
        "transform": [{"fold": ["Si(E0Si3Al)","Si(E1Si2Al)","Si(E2Si1Al)","Si(E3Si0Al)"], "as": ["series","v"]}, {"filter": "datum.x === 0"}],
        "mark": {"type": "point", "filled": false, "color": "black", "opacity": 0},
        "encoding": {
          "x": {"field": "x", "type": "quantitative", "axis": null},
          "y": {"field": "v", "type": "quantitative", "axis": null},
          "shape": {"field": "series", "type": "nominal",
                    "scale": {"domain": ["Si(E0Si3Al)","Si(E1Si2Al)","Si(E2Si1Al)","Si(E3Si0Al)"],
                              "range": ["M-6.3,0H6.3M0.8,0A0.8,0.8,0,1,1,-0.8,0A0.8,0.8,0,1,1,0.8,0Z",
                                        "M-6.3,0H6.3M-0.8,-0.8H0.8V0.8H-0.8Z",
                                        "M-6.3,0H6.3M0,-0.95L0.85,0L0,0.95L-0.85,0Z",
                                        "M-6.3,0H6.3M-0.75,-0.75L0.75,0.75M-0.75,0.75L0.75,-0.75"]},
                    "legend": {"title": null, "orient": "none", "legendX": 256, "legendY": 13.5, "padding": 10, "rowPadding": 0, "labelFontSize": 21,
                               "symbolOffset": 18.5, "labelOffset": 33}}
        }
      },
      {
        "data": {"name": "lab"},
        "transform": [{"filter": "datum.p === 'c'"}],
        "mark": {"type": "text", "font": "Liberation Sans", "fontWeight": "bold", "fontSize": 27, "align": "left", "baseline": "alphabetic", "color": "#1a1a1a"},
        "encoding": {
          "x": {"field": "x", "type": "quantitative", "axis": null},
          "y": {"field": "v", "type": "quantitative", "axis": null},
          "text": {"field": "t"}
        }
      }
    ],
    "resolve": {"scale": {"shape": "independent"}, "axis": {"x": "independent", "y": "independent"}}
  }
],
"resolve": {"scale": {"shape": "independent"}}
}
